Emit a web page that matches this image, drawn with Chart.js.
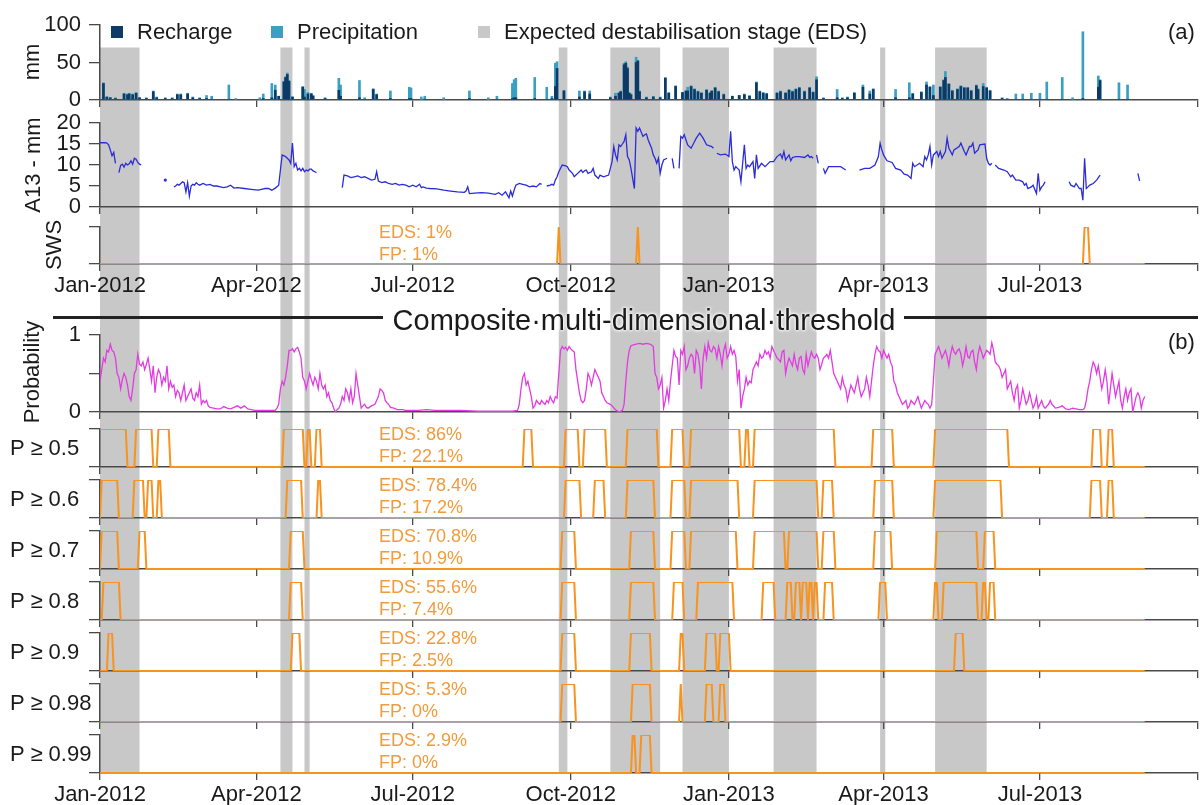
<!DOCTYPE html>
<html>
<head>
<meta charset="utf-8">
<script src="https://cdn.jsdelivr.net/npm/chart.js@4.4.1/dist/chart.umd.min.js"></script>
<style>
  body { margin: 0; background: #fff; }
  #fig { position: relative; width: 1203px; height: 805px; overflow: hidden;
         font-family: 'Liberation Sans', Arial, sans-serif; color: #1a1a1a; }
  #fig canvas { position: absolute; left: 0; }
  .t { position: absolute; white-space: nowrap; }
  .sq { position: absolute; width: 12px; height: 12px; }
  .rule { position: absolute; height: 3px; background: #222; }
</style>
</head>
<body>
<div id="fig"></div>
<script>
// days counted from 1 Jan 2012
const DAY_MIN = 0, DAY_MAX = 639, LAST_DAY = 608;
const tickDays = [0, 91, 182, 274, 366, 456, 547, 639];
const tickLabels = ['Jan-2012', 'Apr-2012', 'Jul-2012', 'Oct-2012', 'Jan-2013', 'Apr-2013', 'Jul-2013', ''];

// expected destabilisation stages (grey bands)
const edsStart = [0, 105, 119, 267, 297, 339, 392, 454, 486];
const edsEnd   = [23, 112, 122, 272, 326, 366, 417, 457, 516];

// daily precipitation / recharge, mm  [day, mm]
const precipitation = [[2,23],[4,4],[6,3],[9,3],[14,9],[16,8],[17,9],[19,8],[21,10],[23,3],[27,3],[31,12],[33,4],[38,3],[42,3],[45,8],[47,8],[51,9],[54,4],[58,3],[62,6],[65,5],[75,20],[79,2],[93,3],[95,8],[100,22],[102,20],[104,5],[107,25],[108,31],[109,36],[110,26],[112,4],[118,18],[119,14],[121,10],[123,9],[124,6],[131,3],[139,29],[140,20],[151,26],[154,3],[159,15],[161,8],[169,12],[180,17],[181,16],[187,4],[189,5],[200,3],[215,12],[226,3],[231,5],[240,22],[241,27],[242,29],[253,30],[260,17],[263,5],[265,49],[266,51],[270,13],[279,12],[282,12],[285,12],
  [297,4],[300,9],[302,10],[303,12],[305,49],[306,51],[307,44],[308,10],[309,8],[312,57],[313,53],[314,12],[318,4],[322,5],[326,4],[329,30],[331,10],[335,19],[339,10],[341,12],[342,17],[344,19],[346,15],[348,12],[350,10],[353,14],[355,10],[356,12],[358,17],[360,12],[363,8],[368,5],[372,6],[375,8],[378,6],[382,24],[384,12],[386,10],[388,9],[394,10],[396,12],[399,10],[401,14],[403,12],[405,15],[407,17],[410,12],[413,17],[415,11],[417,31],[421,3],[429,14],[432,3],[435,4],[439,10],[444,20],[448,12],[450,15],[463,14],[471,23],[473,9],[478,11],[481,24],[483,18],[485,20],[489,18],[491,27],[492,38],[494,22],[496,13],[499,15],[501,19],[503,17],[505,17],[507,13],[510,20],[511,15],[514,22],[516,17],[518,13],[525,3],[528,2],[533,8],[537,8],[542,9],[547,9],[551,24],[560,30],[566,3],[572,91],[581,32],[582,27],[593,23],[598,20]];
const recharge = [[2,22],[4,4],[6,3],[9,2],[14,8],[16,7],[17,8],[19,7],[21,9],[23,3],[27,2],[31,11],[33,3],[38,2],[42,2],[45,7],[47,7],[51,8],[54,3],[58,2],[62,2],[65,1],[75,1],[95,2],[100,3],[102,13],[104,5],[107,24],[108,30],[109,34],[110,25],[112,4],[118,17],[119,4],[121,8],[123,8],[124,5],[131,2],[139,13],[140,5],[151,3],[154,1],[159,14],[161,7],[169,2],[180,2],[181,2],[189,1],[215,2],[231,1],[240,2],[241,3],[242,3],[253,2],[260,1],[263,2],[265,18],[266,42],[270,12],[279,4],[282,11],[285,8],
  [297,3],[300,5],[302,9],[303,11],[305,47],[306,49],[307,42],[308,9],[309,7],[312,50],[313,52],[314,11],[318,3],[322,4],[326,3],[329,29],[331,9],[335,18],[339,10],[341,12],[342,12],[344,18],[346,14],[348,11],[350,9],[353,13],[355,9],[356,12],[358,16],[360,11],[363,7],[368,5],[372,6],[375,7],[378,5],[382,23],[384,11],[386,9],[388,8],[394,9],[396,11],[399,9],[401,13],[403,11],[405,14],[407,16],[410,11],[413,16],[415,10],[417,27],[421,2],[429,3],[432,2],[435,3],[439,9],[444,17],[448,8],[450,14],[463,3],[471,3],[473,8],[478,10],[481,20],[483,17],[485,6],[489,17],[491,26],[492,30],[494,21],[496,12],[499,14],[501,18],[503,16],[505,16],[507,12],[510,19],[511,14],[514,18],[516,16],[518,12],[525,2],[528,1],[533,1],[537,1],[542,1],[547,1],[551,1],[560,1],[572,2],[581,17],[582,26],[593,1],[598,1]];

// A13 displacement, mm  [day, mm]; null = no record
const a13 = [[0,15.3],[3,15.3],[4,15.2],[5,14.8],[6,13.6],[7,12.2],[8,13],[9,10.4],[10,null],
  [11,8.2],[12,9.9],[13,10.2],[14,9.5],[15,10.4],[16,10],[17,10.3],[18,11],[19,10.2],[20,11.6],[21,11.4],[22,10.6],[23,10.2],[24,10],[30,null],
  [38,6.4],[40,null],
  [43,4.8],[44,5],[45,5.4],[46,5.2],[47,5.6],[48,6],[49,5.8],[50,3.6],[51,5.8],[52,2.6],[53,5],[54,5.4],[55,5.2],[56,5.8],[57,5.4],[58,5.2],[60,5.6],[62,5.2],[64,5.4],[66,5],[68,5],[70,4.8],[72,4.6],[74,4.8],[76,5.2],[78,4.5],[80,4.6],[84,4.4],[88,4.2],[92,4],[94,4.2],[96,4.4],[98,4.4],[100,4],[102,4.5],[104,5.2],[105,8.8],[106,12.4],[108,12],[109,11.6],[110,11.2],[111,10.4],[112,15.2],[113,9.6],[114,10.4],[115,8.8],[116,9.2],[117,8.6],[118,9.2],[119,8.4],[120,8.8],[121,8.6],[122,9],[123,9],[124,8.6],[125,8.4],[126,8.2],[130,null],
  [141,4.6],[142,7.6],[144,7.4],[146,7],[148,7.2],[150,7.4],[152,7],[154,7.2],[156,6.8],[158,6.4],[160,6.6],[161,8.4],[162,6.2],[164,5.8],[166,6],[168,5.6],[170,5.4],[172,5.6],[174,5.2],[176,5.4],[178,5.2],[180,4.8],[182,5.2],[184,4.8],[186,5.4],[187,4.6],[188,4.8],[190,4.5],[192,4.4],[196,4.3],[200,4],[204,3.8],[208,3.6],[212,3.5],[213,3.8],[214,4.8],[215,3.2],[218,3.3],[222,3.4],[226,3.3],[230,3],[232,3.4],[234,2.8],[236,3.6],[238,2.2],[239,3.8],[240,2.6],[241,4],[242,5.2],[244,5.6],[246,5.4],[248,5.2],[250,4.8],[252,5],[254,4.8],[256,5.6],[257,5.4],[258,null],
  [260,5],[262,5.2],[263,5.4],[264,5.2],[265,6.4],[266,7.2],[267,8.4],[269,10],[271,9.8],[272,9.6],[273,8.8],[275,8],[276,7.2],[277,7.6],[278,8],[279,8.4],[280,8.8],[281,8.2],[282,8.6],[283,8.8],[284,8],[286,8.4],[287,9.2],[288,7.6],[290,6.8],[291,7.6],[293,7.2],[296,7.6],[298,10.8],[299,14.4],[300,12.4],[301,11.2],[302,14.8],[303,14.4],[304,15],[305,15.6],[306,17.2],[307,12],[308,11.2],[309,9.2],[311,4.4],[312,18.8],[313,18],[314,18.8],[316,16.8],[317,17.2],[318,17.4],[319,16],[321,14],[322,12.4],[323,11.6],[324,10.4],[325,11.6],[326,8],[327,10],[328,11.2],[330,11.6],[331,null],
  [333,11.6],[334,9.2],[335,null],
  [337,9.2],[338,16.8],[339,16.4],[340,17.2],[342,14.8],[344,14],[346,15.6],[347,16.4],[349,17.6],[351,16.4],[353,14.8],[356,14.4],[357,14],[358,null],
  [359,12.8],[361,12.4],[364,12.6],[366,12],[367,18],[368,10.8],[369,8.8],[370,9.6],[371,9.2],[372,8.8],[373,6],[375,14.8],[376,9.2],[377,10],[378,9.6],[380,10.8],[381,6.8],[382,12.4],[383,9.2],[385,10.4],[387,9.6],[390,10.8],[392,10.8],[394,12],[396,12.6],[397,11.6],[398,13.2],[399,11.2],[401,12.4],[402,11],[403,11.8],[405,12],[407,12],[410,11.8],[412,12.4],[413,11.8],[414,12],[415,11.6],[416,null],
  [417,12.4],[418,10.4],[419,null],
  [421,9.2],[422,8],[424,9.6],[428,9.6],[431,9.6],[434,8.8],[438,null],
  [442,8.8],[445,9.2],[448,9.2],[451,10],[453,12],[454,15.2],[455,13.6],[456,12.4],[458,11],[461,10.6],[463,9.2],[466,8.8],[468,7.8],[470,7.6],[472,6.8],[473,10.4],[474,9.6],[477,10.4],[479,9.6],[480,12],[481,11.2],[482,12.4],[483,14.4],[484,10],[485,12.4],[487,13.2],[488,12],[489,13.2],[490,11.6],[492,13.2],[493,16.4],[494,14],[495,13.2],[496,12.4],[497,13.6],[500,14.4],[501,15.2],[503,13.2],[504,12.4],[506,14.4],[507,14.4],[508,15.2],[509,12.8],[510,13.2],[511,13.6],[512,14.8],[515,15],[516,11.6],[517,10.4],[518,10],[519,10.4],[520,null],
  [521,10],[523,9.2],[526,8.8],[528,8.4],[530,7.2],[531,7.6],[533,6.4],[535,6.4],[537,6],[538,5.2],[539,5.6],[540,4.4],[542,4.8],[543,5.2],[545,3.2],[546,8],[547,4],[548,4.8],[549,5.2],[550,6],[555,null],
  [564,6],[565,5.2],[567,4.8],[568,5.6],[570,4.4],[571,4.4],[572,1.6],[573,11.6],[574,4.4],[575,4.8],[576,5.2],[578,5.6],[580,6.4],[582,7.6],[590,null],
  [604,8],[605,6.2]];

// composite probability  [day, P]
const probability = [[0,0.40],[1,0.55],[2,0.70],[3,0.65],[4,0.80],[5,0.78],[6,0.88],[7,0.80],[8,0.78],[9,0.70],[10,0.50],[11,0.45],[12,0.30],[13,0.42],[14,0.50],[15,0.45],[16,0.35],[17,0.20],[18,0.15],[19,0.30],[20,0.50],[21,0.55],[22,0.75],[23,0.62],[24,0.60],[25,0.65],[26,0.55],[27,0.62],[28,0.70],[29,0.55],[30,0.40],[31,0.60],[32,0.25],[33,0.45],[34,0.55],[35,0.50],[36,0.35],[37,0.45],[38,0.40],[39,0.60],[40,0.30],[41,0.40],[42,0.32],[43,0.35],[44,0.20],[45,0.28],[46,0.25],[47,0.15],[48,0.25],[49,0.35],[50,0.15],[51,0.20],[52,0.25],[53,0.30],[54,0.18],[55,0.15],[56,0.25],[57,0.20],[58,0.35],[59,0.10],[60,0.15],[61,0.12],[62,0.15],[63,0.08],[64,0.06],[66,0.05],[68,0.04],[70,0.04],[72,0.07],[74,0.05],[76,0.04],[78,0.06],[80,0.08],[82,0.05],[84,0.08],[86,0.04],[88,0.03],[90,0.02],[94,0.02],[98,0.02],[102,0.02],[103,0.05],[104,0.10],[105,0.30],[106,0.40],[107,0.35],[108,0.45],[109,0.60],[110,0.80],[111,0.80],[112,0.82],[113,0.78],[114,0.82],[115,0.84],[116,0.78],[117,0.70],[118,0.45],[119,0.40],[120,0.30],[121,0.40],[122,0.50],[123,0.42],[124,0.35],[125,0.45],[126,0.40],[127,0.30],[128,0.50],[129,0.35],[130,0.30],[131,0.35],[132,0.20],[133,0.25],[134,0.15],[135,0.12],[136,0.05],[137,0.0],[138,0.03],[139,0.05],[140,0.10],[141,0.20],[142,0.15],[143,0.30],[144,0.25],[145,0.15],[146,0.30],[147,0.12],[148,0.20],[149,0.50],[150,0.35],[151,0.20],[152,0.05],[153,0.08],[154,0.10],[155,0.06],[156,0.05],[158,0.08],[160,0.10],[162,0.20],[163,0.30],[164,0.28],[165,0.25],[166,0.15],[167,0.12],[168,0.10],[169,0.06],[171,0.05],[173,0.03],[176,0.03],[178,0.02],[185,0.02],[190,0.03],[195,0.02],[200,0.02],[210,0.02],[220,0.01],[230,0.01],[240,0.01],[243,0.02],[244,0.10],[245,0.30],[246,0.45],[247,0.50],[248,0.35],[249,0.40],[250,0.30],[251,0.20],[252,0.05],[253,0.08],[254,0.15],[255,0.12],[256,0.10],[257,0.15],[258,0.12],[259,0.10],[260,0.15],[261,0.12],[262,0.20],[263,0.15],[264,0.12],[265,0.20],[266,0.18],[267,0.50],[268,0.80],[269,0.85],[270,0.82],[271,0.84],[272,0.80],[273,0.85],[274,0.82],[275,0.80],[276,0.78],[277,0.55],[278,0.40],[279,0.25],[280,0.15],[281,0.12],[282,0.15],[283,0.30],[284,0.50],[285,0.45],[286,0.35],[287,0.45],[288,0.55],[289,0.50],[290,0.45],[291,0.40],
  [292,0.25],[293,0.20],[294,0.15],[295,0.12],[297,0.10],[298,0.08],[300,0.03],[302,0.0],[304,0.02],[305,0.10],[306,0.40],[307,0.65],[308,0.80],[309,0.86],[310,0.87],[312,0.88],[314,0.89],[316,0.88],[318,0.89],[320,0.88],[321,0.87],[322,0.85],[323,0.50],[324,0.45],[325,0.30],[326,0.35],[327,0.45],[328,0.05],[329,0.15],[330,0.30],[331,0.15],[332,0.40],[333,0.60],[334,0.80],[335,0.72],[336,0.70],[337,0.35],[338,0.80],[339,0.75],[340,0.85],[341,0.55],[342,0.60],[343,0.70],[344,0.75],[345,0.72],[346,0.50],[347,0.80],[348,0.75],[349,0.60],[350,0.30],[351,0.70],[352,0.85],[353,0.70],[354,0.90],[355,0.80],[356,0.78],[357,0.85],[358,0.82],[359,0.70],[360,0.85],[361,0.75],[362,0.60],[363,0.80],[364,0.88],[365,0.70],[366,0.75],[367,0.85],[368,0.75],[369,0.80],[370,0.72],[371,0.40],[372,0.55],[373,0.05],[374,0.20],[375,0.30],[376,0.45],[377,0.35],[378,0.40],[379,0.38],[380,0.55],[381,0.60],[382,0.65],[383,0.60],[384,0.75],[385,0.70],[386,0.72],[387,0.80],[388,0.75],[389,0.78],[390,0.70],[391,0.85],[392,0.80],[393,0.75],[394,0.70],[395,0.68],[396,0.65],[397,0.78],[398,0.80],[399,0.50],[400,0.62],[401,0.70],[402,0.65],[403,0.60],[404,0.75],[405,0.62],[406,0.55],[407,0.70],[408,0.72],[409,0.55],[410,0.50],[411,0.75],[412,0.60],[413,0.70],[414,0.78],[415,0.72],[416,0.70],[417,0.75],[418,0.70],[419,0.55],[420,0.62],[421,0.70],[422,0.72],[423,0.75],[424,0.70],[425,0.80],[426,0.65],[427,0.50],[428,0.45],[429,0.40],[430,0.35],[431,0.30],[432,0.45],[433,0.35],[434,0.30],[435,0.15],[436,0.25],[437,0.35],[438,0.30],[439,0.25],[440,0.35],[441,0.45],[442,0.30],[443,0.20],[444,0.25],[445,0.30],[446,0.45],[447,0.35],[448,0.20],[449,0.40],[450,0.60],[451,0.75],[452,0.85],[453,0.80],[454,0.78],[455,0.70],[456,0.80],[457,0.75],[458,0.70],[459,0.75],[460,0.65],[461,0.60],[462,0.40],[463,0.35],[464,0.25],[465,0.20],[466,0.15],[467,0.10],[468,0.12],[469,0.15],[470,0.05],[471,0.08],[472,0.15],[473,0.12],[474,0.10],[475,0.15],[476,0.20],[477,0.12],[478,0.05],[479,0.10],[480,0.15],[481,0.12],[482,0.10],[483,0.05],[484,0.10],[485,0.40],[486,0.75],[487,0.80],[488,0.85],[489,0.78],[490,0.70],[491,0.75],[492,0.80],[493,0.72],[494,0.60],[495,0.75],[496,0.85],[497,0.78],[498,0.75],[499,0.80],[500,0.82],[501,0.75],[502,0.60],[503,0.70],[504,0.85],[505,0.72],[506,0.70],[507,0.78],[508,0.80],[509,0.65],[510,0.55],[511,0.75],[512,0.85],[513,0.78],[514,0.70],[515,0.75],[516,0.80],[517,0.78],[518,0.75],[519,0.90],[520,0.80],[521,0.65],[522,0.62],[523,0.60],[524,0.55],[525,0.45],[526,0.50],[527,0.55],[528,0.30],[529,0.35],[530,0.40],[531,0.25],[532,0.15],[533,0.30],[534,0.35],[535,0.05],[536,0.15],[537,0.30],[538,0.20],[539,0.10],[540,0.15],[541,0.25],[542,0.15],[543,0.05],[544,0.10],[545,0.20],[546,0.05],[547,0.10],[548,0.15],[549,0.08],[550,0.05],[552,0.10],[553,0.15],[554,0.10],[556,0.05],[558,0.06],[560,0.08],[562,0.04],[564,0.03],[566,0.05],[568,0.04],[570,0.03],[572,0.03],[573,0.05],[574,0.15],[575,0.30],[576,0.40],[577,0.55],[578,0.65],[579,0.60],[580,0.50],[581,0.60],[582,0.45],[583,0.30],[584,0.40],[585,0.55],[586,0.40],[587,0.10],[588,0.30],[589,0.50],[590,0.35],[591,0.20],[592,0.30],[593,0.40],[594,0.15],[595,0.05],[596,0.20],[597,0.30],[598,0.15],[599,0.25],[600,0.30],[601,0.0],[602,0.10],[603,0.20],[604,0.25],[605,0.20],[606,0.05],[607,0.15],[608,0.20]];

// warning ON periods [first day, last day]
const swsOn = [[267,267],[313,313],[573,575]];
const thrOn = [
  [[0,15],[21,30],[34,40],[107,118],[121,122],[126,128],[247,251],[271,278],[282,294],[307,324],[333,339],[344,372],[376,377],[381,427],[450,461],[486,528],[578,582],[587,589]],
  [[1,10],[20,25],[28,30],[34,35],[109,117],[127,128],[271,279],[288,293],[307,322],[333,340],[344,371],[381,417],[421,426],[451,461],[486,524],[577,582],[587,589]],
  [[1,10],[23,26],[111,118],[269,276],[309,322],[333,340],[344,370],[381,398],[401,417],[421,427],[451,460],[487,510],[515,520]],
  [[2,11],[111,117],[269,276],[309,322],[334,339],[348,368],[386,392],[400,402],[405,407],[409,411],[413,414],[416,417],[422,426],[454,457],[486,487],[491,510],[514,515],[518,520]],
  [[5,7],[112,116],[269,276],[309,320],[338,339],[353,358],[361,366],[498,502]],
  [[269,276],[310,320],[338,338],[353,356],[361,363]],
  [[310,311],[315,320]]
];
const thrLabels = ['P ≥ 0.5', 'P ≥ 0.6', 'P ≥ 0.7', 'P ≥ 0.8', 'P ≥ 0.9', 'P ≥ 0.98', 'P ≥ 0.99'];
const edsRates = ['86%', '78.4%', '70.8%', '55.6%', '22.8%', '5.3%', '2.9%'];
const fpRates = ['22.1%', '17.2%', '10.9%', '7.4%', '2.5%', '0%', '0%'];
const swsRates = ['1%', '1%'];

const FONT = "'Liberation Sans', Arial, sans-serif";
const AXIS = '#4a4a4a';
const ORANGE = '#f7931e';
const ORANGE_TXT = '#f29b3a';
Chart.defaults.font.family = FONT;
Chart.defaults.font.size = 22;
Chart.defaults.color = '#1a1a1a';

const fig = document.getElementById('fig');

// grey EDS bands, drawn behind everything across the whole canvas height
const edsBands = {
  id: 'edsBands',
  beforeDraw(chart, args, opts) {
    const { ctx, scales: { x, y }, chartArea } = chart;
    const top = opts.fromValue != null ? y.getPixelForValue(opts.fromValue) : 0;
    const bottom = opts.toArea ? chartArea.bottom : chart.height;
    ctx.save();
    ctx.fillStyle = '#c8c8c8';
    edsStart.forEach((s, i) => {
      const x1 = x.getPixelForValue(s);
      const x2 = x.getPixelForValue(edsEnd[i]);
      ctx.fillRect(x1, top, x2 - x1, bottom - top);
    });
    ctx.restore();
  }
};

function toPoints(pairs) {
  return pairs.map(p => ({ x: p[0], y: p[1] }));
}

// 0/1 series from ON periods
function stepPoints(periods) {
  const pts = [];
  if (!periods.length || periods[0][0] > 0) pts.push({ x: 0, y: 0 });
  periods.forEach(([s, e]) => {
    if (s > 0) pts.push({ x: s - 1, y: 0 });
    pts.push({ x: s, y: 1 }, { x: e, y: 1 }, { x: e + 1, y: 0 });
  });
  pts.push({ x: LAST_DAY, y: 0 });
  return pts;
}

function panel(cfg) {
  const c = document.createElement('canvas');
  c.width = 1203;
  c.height = cfg.h;
  c.style.top = cfg.top + 'px';
  fig.appendChild(c);
  return new Chart(c, {
    type: cfg.type || 'line',
    data: { datasets: cfg.datasets },
    options: {
      responsive: false,
      animation: false,
      events: [],
      layout: { autoPadding: false, padding: { top: cfg.plotTop - cfg.top, right: 5, left: 0, bottom: 0 } },
      plugins: { legend: { display: false }, tooltip: { enabled: false }, edsBands: cfg.bands || {} },
      scales: {
        x: {
          type: 'linear', min: DAY_MIN, max: DAY_MAX, offset: false,
          afterFit: s => {
            s.height = cfg.top + cfg.h - cfg.plotBottom;
            s.paddingLeft = 0; s.paddingRight = 0; s.paddingTop = 0; s.paddingBottom = 0;
          },
          afterBuildTicks: s => { s.ticks = tickDays.map(v => ({ value: v })); },
          grid: { offset: false, drawOnChartArea: false, drawTicks: true, tickLength: 7, color: AXIS, lineWidth: 1.3 },
          border: { display: true, color: AXIS, width: 1.5 },
          ticks: {
            display: !!cfg.xLabels, autoSkip: false, maxRotation: 0, padding: 2,
            callback: v => { const i = tickDays.indexOf(v); return i < 0 ? '' : tickLabels[i]; }
          }
        },
        y: Object.assign({
          afterFit: s => {
            s.width = 100;
            s.paddingLeft = 0; s.paddingRight = 0; s.paddingTop = 0; s.paddingBottom = 0;
          },
          grid: { drawOnChartArea: false, tickLength: 11, color: AXIS, lineWidth: 1.3 },
          border: { display: true, color: AXIS, width: 1.5 }
        }, cfg.y)
      }
    },
    plugins: [edsBands]
  });
}

const lineStyle = (color, w) => ({ borderColor: color, borderWidth: w, pointRadius: 0, tension: 0, spanGaps: false, fill: false });

// (a) recharge & precipitation
panel({
  type: 'bar', top: 0, h: 110, plotTop: 25, plotBottom: 100, bands: { fromValue: 70 },
  y: { min: 0, max: 100, ticks: { stepSize: 50, padding: 8, autoSkip: false } },
  datasets: [
    { label: 'Recharge', data: toPoints(recharge), backgroundColor: '#0e3a66', barThickness: 2, grouped: false, order: 0, borderWidth: 0 },
    { label: 'Precipitation', data: toPoints(precipitation), backgroundColor: '#3a9fc0', barThickness: 2, grouped: false, order: 1, borderWidth: 0 }
  ]
});

// A13 displacement
const a13Points = toPoints(a13);
const isolated = i => a13Points[i].y != null &&
  (i === 0 || a13Points[i - 1].y == null) && (i === a13Points.length - 1 || a13Points[i + 1].y == null);
panel({
  top: 110, h: 105, plotTop: 123, plotBottom: 207,
  y: { min: 0, max: 20, ticks: { stepSize: 5, padding: 8, autoSkip: false } },
  datasets: [Object.assign(lineStyle('#2b2bd8', 1.3), {
    data: a13Points,
    pointRadius: ctx => isolated(ctx.dataIndex) ? 1.6 : 0,
    pointBackgroundColor: '#2b2bd8', pointBorderWidth: 0
  })]
});

// SWS
panel({
  top: 215, h: 90, plotTop: 227, plotBottom: 264, xLabels: true,
  y: { min: 0, max: 1, ticks: { stepSize: 1, display: false } },
  datasets: [Object.assign(lineStyle(ORANGE, 2), { data: stepPoints(swsOn) })]
});

// (b) probability
panel({
  top: 305, h: 115, plotTop: 335, plotBottom: 412,
  y: { min: 0, max: 1, ticks: { stepSize: 0.5, padding: 8, autoSkip: false, callback: v => v === 0.5 ? '' : v } },
  datasets: [Object.assign(lineStyle('#e23be2', 1.3), { data: toPoints(probability) })]
});

// threshold panels
const thrBase = [467, 518, 569, 620, 671, 722, 773];
const thrTop = [420, 475, 526, 577, 628, 679, 730, 805];
thrOn.forEach((periods, k) => {
  const last = k === thrOn.length - 1;
  panel({
    top: thrTop[k], h: thrTop[k + 1] - thrTop[k], plotTop: thrBase[k] - 38, plotBottom: thrBase[k],
    xLabels: last, bands: last ? { toArea: true } : {},
    y: { min: 0, max: 1, ticks: { stepSize: 1, display: false } },
    datasets: [Object.assign(lineStyle(ORANGE, 2), { data: stepPoints(periods) })]
  });
});

// ---- text overlays ----
function addText(str, x, cy, size, extra) {
  const d = document.createElement('div');
  d.className = 't';
  d.textContent = str;
  d.style.left = x + 'px';
  d.style.top = (cy - size * 0.6) + 'px';
  d.style.fontSize = size + 'px';
  d.style.lineHeight = (size * 1.2) + 'px';
  if (extra) Object.assign(d.style, extra);
  fig.appendChild(d);
  return d;
}
function addRotated(str, cx, cy, size) {
  const d = addText(str, cx, cy, size);
  d.style.top = cy + 'px';
  d.style.transform = 'translate(-50%, -50%) rotate(-90deg)';
  return d;
}
function addBox(cls, x, y, w, color) {
  const d = document.createElement('div');
  d.className = cls;
  d.style.left = x + 'px';
  d.style.top = y + 'px';
  if (w) d.style.width = w + 'px';
  d.style.background = color;
  fig.appendChild(d);
}

// legend
addBox('sq', 111, 26, 0, '#0e3a66');
addText('Recharge', 137, 32, 22);
addBox('sq', 271, 26, 0, '#3a9fc0');
addText('Precipitation', 297, 32, 22);
addBox('sq', 478, 26, 0, '#c8c8c8');
addText('Expected destabilisation stage (EDS)', 504, 32, 22);
addText('(a)', 1168, 32, 22);
addText('(b)', 1168, 342, 22);

// axis titles
addRotated('mm', 32, 62, 22);
addRotated('A13 - mm', 33, 165, 22);
addRotated('SWS', 54, 245, 22);
addRotated('Probability', 32, 372, 22);

// SWS rates
addText('EDS: ' + swsRates[0], 379, 233, 18, { color: ORANGE_TXT });
addText('FP: ' + swsRates[1], 379, 255, 18, { color: ORANGE_TXT });

// threshold labels and rates
thrLabels.forEach((lab, k) => {
  const b = thrBase[k];
  addText(lab, 10, b - 19, 22);
  addText('EDS: ' + edsRates[k], 379, b - 32, 18, { color: ORANGE_TXT });
  addText('FP: ' + fpRates[k], 379, b - 10, 18, { color: ORANGE_TXT });
});

// section heading
addBox('rule', 53, 316, 330, '#222');
addBox('rule', 904, 316, 294, '#222');
const head = addText('Composite·multi-dimensional·threshold', 644, 320, 29,
  { textShadow: '0 0 2px #fff, 0 0 3px #fff, 0 0 4px #fff' });
head.style.transform = 'translateX(-50%)';
</script>
</body>
</html>
